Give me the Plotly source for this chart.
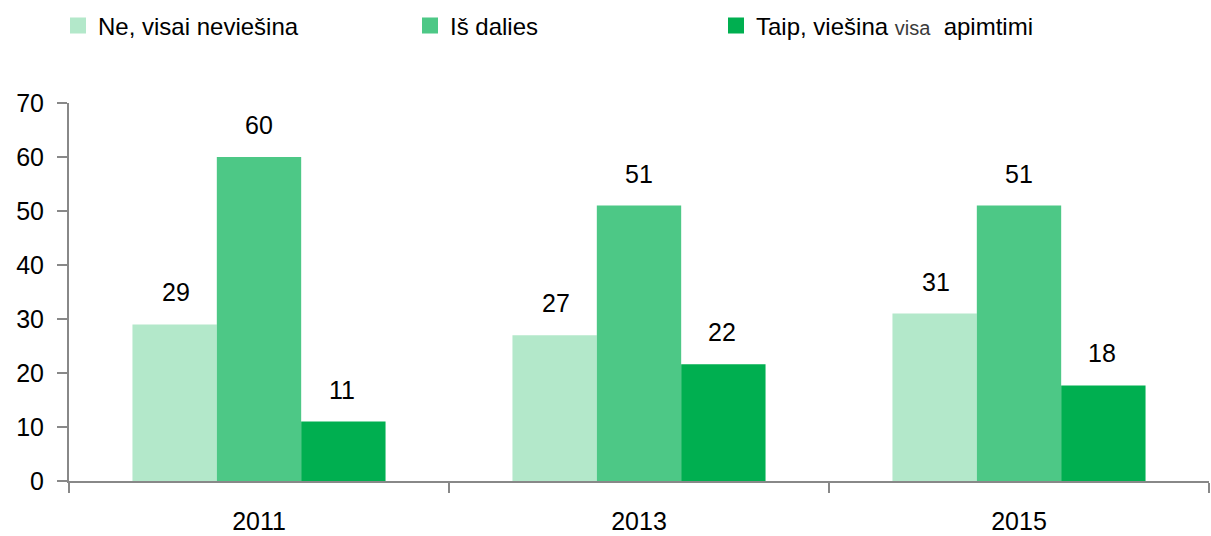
import plotly.graph_objects as go

years = ["2011", "2013", "2015"]
series_names = [
    "Ne, visai neviešina",
    "Iš dalies",
    "Taip, viešina <span style='font-size:20px;color:#3a3a3a'>visa</span>  apimtimi",
]
ne_visai = [29, 27, 31]
is_dalies = [60, 51, 51]
taip = [11, 21.6, 17.7]
colors = ["#B3E8CA", "#4DC886", "#00AF50"]
y_ticks = [0, 10, 20, 30, 40, 50, 60, 70]

FONT = "Liberation Sans, Arial, sans-serif"
values = [ne_visai, is_dalies, taip]

fig = go.Figure()
legend_ids = ["legend", "legend2", "legend3"]
for i, (vals, col) in enumerate(zip(values, colors)):
    fig.add_trace(go.Bar(
        x=years, y=vals, marker=dict(color=col, line=dict(width=0)),
        showlegend=False, name=series_names[i],
    ))
    # legend entry (square marker)
    fig.add_trace(go.Scatter(
        x=[years[0]], y=[None], mode="markers", name=series_names[i],
        marker=dict(symbol="square", size=16, color=col, line=dict(width=0)),
        legend=legend_ids[i], showlegend=True, hoverinfo="skip",
    ))

bar_px = 83
for i, vals in enumerate(values):
    for k, v in enumerate(vals):
        fig.add_annotation(
            x=k, y=v, text=f"{v:.0f}", showarrow=False,
            xshift=(i - 1) * bar_px, yshift=32, yanchor="middle",
            font=dict(family=FONT, size=25, color="#000000"),
        )

leg_common = dict(
    orientation="h", yref="paper", xref="paper", yanchor="middle",
    xanchor="left", bgcolor="rgba(0,0,0,0)", borderwidth=0,
    font=dict(family=FONT, size=24, color="#000000"),
    itemsizing="trace",
)
L, T, W, H = 69, 103, 1140, 378
ly = 1 + (T - 26) / H
fig.update_layout(
    barmode="group", bargap=0.334, bargroupgap=0,
    width=1211, height=536,
    margin=dict(l=L, r=2, t=T, b=55, autoexpand=False),
    plot_bgcolor="white", paper_bgcolor="white",
    font=dict(family=FONT, size=25, color="#000000"),
    legend=dict(x=(58 - L) / W, y=ly, **leg_common),
    legend2=dict(x=(410 - L) / W, y=ly, **leg_common),
    legend3=dict(x=(716 - L) / W, y=ly, **leg_common),
    xaxis=dict(
        type="category", range=[-0.5, 2.5], tickson="boundaries",
        ticks="outside", ticklen=10,
        tickwidth=2, tickcolor="#888888", showline=True, linecolor="#888888",
        linewidth=2, showgrid=False, zeroline=False,
        tickfont=dict(family=FONT, size=25, color="#000000"),
        ticklabelstandoff=17,
    ),
    yaxis=dict(
        range=[0, 70], tickvals=y_ticks, ticks="outside", ticklen=10,
        tickwidth=2, tickcolor="#888888", showline=True, linecolor="#888888",
        linewidth=2, showgrid=False, zeroline=False,
        tickfont=dict(family=FONT, size=25, color="#000000"),
        ticklabelstandoff=8,
    ),
)

fig.write_html(
    "out.html",
    config={"displayModeBar": False},
    post_script="document.body.style.margin='0';document.body.style.overflow='hidden';",
)
